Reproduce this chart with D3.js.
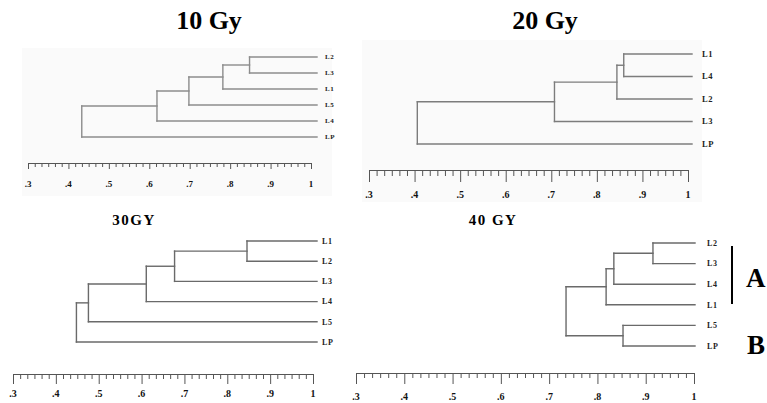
<!DOCTYPE html>
<html><head><meta charset="utf-8">
<script src="https://cdn.jsdelivr.net/npm/d3@7"></script>
<style>
html,body{margin:0;padding:0;background:#fff;}
svg{display:block;font-family:"Liberation Serif","DejaVu Serif",serif;}
</style></head>
<body><svg id="c" width="767" height="403"></svg>
<script>
// ---- data ----
const titles = ["10 Gy", "20 Gy", "30GY", "40 GY"];
const leaves10 = ["L2","L3","L1","L5","L4","LP"];
const merges10 = [[0,1,0.848],[6,2,0.782],[7,3,0.698],[8,4,0.619],[9,5,0.433]];
const leaves20 = ["L1","L4","L2","L3","LP"];
const merges20 = [[0,1,0.859],[5,2,0.844],[6,3,0.707],[7,4,0.406]];
const leaves30 = ["L1","L2","L3","L4","L5","LP"];
const merges30 = [[0,1,0.846],[6,2,0.677],[7,3,0.611],[8,4,0.476],[9,5,0.448]];
const leaves40 = ["L2","L3","L4","L1","L5","LP"];
const merges40 = [[0,1,0.915],[6,2,0.834],[7,3,0.818],[4,5,0.853],[8,9,0.735]];
const majorTicks = [0.3,0.4,0.5,0.6,0.7,0.8,0.9,1.0];
const tickLabels = [".3",".4",".5",".6",".7",".8",".9","1"];
const groupLabels = ["A","B"];

// ---- layout ----
const panels = [
  {leaves:leaves10, merges:merges10, x0:28, x1:311, leafEnd:317, yTop:57, yBot:137, axisY:163, tickLabY:187,
   maj:6, min:4, labX:325, labFs:7, tickFs:9, title:{x:209,y:29,fs:26,w:"bold",ls:0}, bg:[22,48,310,148], stroke:"#8c8c8c"},
  {leaves:leaves20, merges:merges20, x0:369, x1:688, leafEnd:692, yTop:54, yBot:144, axisY:170, tickLabY:198,
   maj:12, min:6, labX:702, labFs:8.5, tickFs:10, title:{x:545,y:29,fs:26,w:"bold",ls:0}, bg:[362,40,340,162], stroke:"#7c7c7c"},
  {leaves:leaves30, merges:merges30, x0:13, x1:313, leafEnd:317, yTop:241, yBot:342, axisY:374, tickLabY:397,
   maj:10, min:5, labX:322, labFs:8, tickFs:10, title:{x:134,y:225,fs:15,w:"bold",ls:1.5}, bg:null, stroke:"#6a6a6a"},
  {leaves:leaves40, merges:merges40, x0:356, x1:694, leafEnd:695, yTop:243, yBot:346, axisY:373, tickLabY:400,
   maj:11, min:5, labX:707, labFs:8, tickFs:10, title:{x:493,y:225,fs:15,w:"bold",ls:1.5}, bg:null, stroke:"#6a6a6a"}
];

const svg = d3.select("#c");

function buildTree(leaves, merges){
  const nodes = leaves.map(n => ({name:n, h:1}));
  merges.forEach(m => nodes.push({children:[nodes[m[0]], nodes[m[1]]], h:m[2]}));
  return d3.hierarchy(nodes[nodes.length-1]);
}

panels.forEach((p, i) => {
  const g = svg.append("g");
  if (p.bg) g.append("rect").attr("x",p.bg[0]).attr("y",p.bg[1]).attr("width",p.bg[2]).attr("height",p.bg[3]).attr("fill","#fafafa");

  const x = d3.scaleLinear().domain([0.3,1.0]).range([p.x0,p.x1]);
  const y = d3.scalePoint().domain(p.leaves).range([p.yTop,p.yBot]);
  const root = buildTree(p.leaves, p.merges);

  root.eachAfter(n => {
    if (!n.children) { n.py = y(n.data.name); n.px = p.leafEnd; }
    else { n.py = d3.mean(n.children, c => c.py); n.px = x(n.data.h); }
  });

  const links = [];
  root.each(n => {
    if (n.children) {
      links.push([n.px, n.children[0].py, n.px, n.children[1].py]);
      n.children.forEach(c => links.push([n.px, c.py, c.px, c.py]));
    }
  });
  g.selectAll("line.l").data(links).join("line")
    .attr("x1",d=>d[0]).attr("y1",d=>d[1]).attr("x2",d=>d[2]).attr("y2",d=>d[3])
    .attr("stroke",p.stroke).attr("stroke-width",1.4).attr("stroke-linecap","square");

  g.selectAll("text.leaf").data(root.leaves()).join("text")
    .attr("x",p.labX).attr("y",d=>d.py).attr("dy","0.35em")
    .attr("font-size",p.labFs).attr("font-weight","bold").attr("fill","#222")
    .attr("letter-spacing",0.6)
    .text(d=>d.data.name);

  // axis: minor ticks
  const minorVals = d3.range(0.3, 1.0001, 0.1/6).filter(v => !majorTicks.some(m => Math.abs(m-v)<1e-6));
  g.append("g").attr("transform",`translate(0,${p.axisY})`)
    .call(d3.axisBottom(x).tickValues(minorVals).tickSize(p.min).tickSizeOuter(0).tickFormat(""))
    .call(a => { a.select(".domain").remove(); a.selectAll("line").attr("stroke","#555"); });
  const ax = g.append("g").attr("transform",`translate(0,${p.axisY})`)
    .call(d3.axisBottom(x).tickValues(majorTicks).tickSize(p.maj).tickSizeOuter(p.maj).tickFormat(""));
  ax.select(".domain").attr("stroke","#555");
  ax.selectAll("line").attr("stroke","#555");
  g.selectAll("text.tl").data(majorTicks).join("text")
    .attr("x",(d)=>x(d)).attr("y",p.tickLabY).attr("text-anchor","middle")
    .attr("font-size",p.tickFs).attr("font-weight","bold").attr("fill","#111")
    .text((d,j)=>tickLabels[j]);

  g.append("text").attr("x",p.title.x).attr("y",p.title.y).attr("text-anchor","middle")
    .attr("font-size",p.title.fs).attr("font-weight",p.title.w).attr("letter-spacing",p.title.ls)
    .attr("fill","#000").text(titles[i]);
});

// group bracket and labels (40 GY)
svg.append("line").attr("x1",732).attr("x2",732).attr("y1",246).attr("y2",304).attr("stroke","#000").attr("stroke-width",2);
svg.append("text").attr("x",746).attr("y",287).attr("font-size",27).attr("font-weight","bold").text(groupLabels[0]);
svg.append("text").attr("x",747).attr("y",354).attr("font-size",27).attr("font-weight","bold").text(groupLabels[1]);
</script></body></html>
